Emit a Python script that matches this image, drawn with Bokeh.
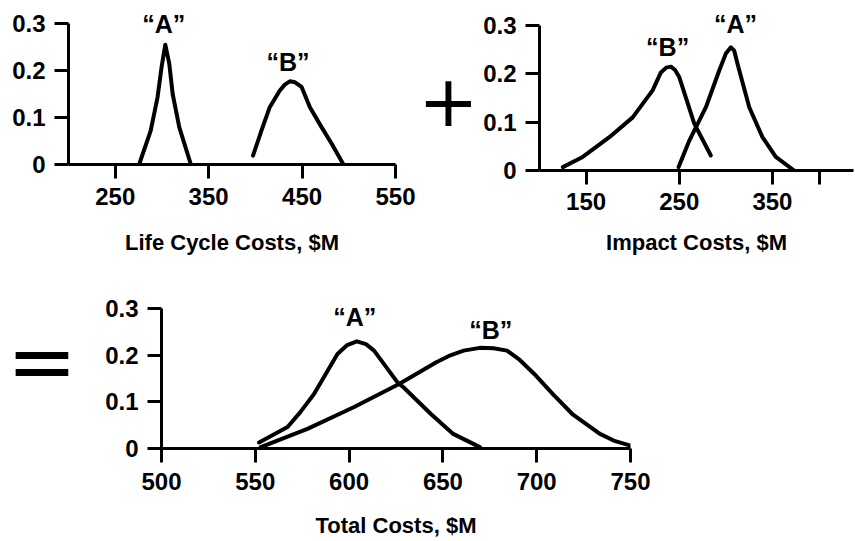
from bokeh.plotting import figure
from bokeh.layouts import column, row
from bokeh.models import FixedTicker, Range1d
from bokeh.core.properties import value
from bokeh.embed import file_html
from bokeh.resources import INLINE

# ---------------- data ----------------
y_ticks = [0, 0.1, 0.2, 0.3]
y_tick_labels = ["0", "0.1", "0.2", "0.3"]

# Life cycle costs, $M
lc_ticks = [250, 350, 450, 550]
lc_tick_labels = ["250", "350", "450", "550"]
lc_a_x = [275.6, 288.0, 295.3, 299.6, 303.6, 307.9, 311.5, 318.6, 331.0]
lc_a_y = [0.0, 0.072, 0.143, 0.207, 0.255, 0.214, 0.150, 0.079, 0.0]
lc_b_x = [397.5, 406.5, 415.4, 426.0, 431.5, 436.9, 442.5, 449.5, 458.4, 471.0, 481.7, 494.3]
lc_b_y = [0.019, 0.072, 0.122, 0.157, 0.170, 0.177, 0.175, 0.165, 0.122, 0.079, 0.044, 0.0]

# Impact costs, $M
im_ticks = [150, 250, 350, 400]
im_tick_labels = ["150", "250", "350", ""]
im_b_x = [125.0, 146.4, 175.0, 200.0, 221.4, 230.3, 236.0, 241.0, 245.5, 250.1, 266.1, 283.9]
im_b_y = [0.007, 0.028, 0.069, 0.110, 0.166, 0.203, 0.213, 0.215, 0.208, 0.193, 0.097, 0.031]
im_a_x = [249.3, 260.8, 278.6, 292.9, 300.0, 305.4, 309.0, 312.5, 325.1, 339.3, 353.6, 373.3]
im_a_y = [0.007, 0.062, 0.131, 0.207, 0.242, 0.255, 0.248, 0.221, 0.131, 0.069, 0.028, 0.0]

# Total costs, $M
tot_ticks = [500, 550, 600, 650, 700, 750]
tot_tick_labels = ["500", "550", "600", "650", "700", "750"]
tot_a_x = [552.0, 567.2, 574.0, 581.3, 593.8, 599.0, 604.1, 609.0, 613.3, 625.8,
           629.1, 643.6, 655.2, 669.7]
tot_a_y = [0.013, 0.046, 0.078, 0.117, 0.203, 0.222, 0.230, 0.224, 0.210, 0.142,
           0.131, 0.074, 0.032, 0.003]
tot_b_x = [552.9, 577.8, 602.7, 626.9, 646.5, 654.0, 661.0, 669.7, 677.0, 684.2,
           691.0, 698.7, 709.0, 719.0, 733.5, 741.0, 750.0]
tot_b_y = [0.003, 0.042, 0.089, 0.139, 0.185, 0.200, 0.210, 0.216, 0.215, 0.210,
           0.190, 0.160, 0.115, 0.074, 0.032, 0.017, 0.006]

# curve labels: (text, x, y)
lc_labels = [("\u201cA\u201d", 302, 0.300), ("\u201cB\u201d", 435, 0.219)]
im_labels = [("\u201cB\u201d", 237.5, 0.256), ("\u201cA\u201d", 310.4, 0.304)]
tot_labels = [("\u201cA\u201d", 603, 0.283), ("\u201cB\u201d", 675.5, 0.254)]

FONT = "Liberation Sans"


def make_fig(xr, yend, fw, fh, bl, br, bt, bb, xticks, xlabels, title,
             x_label_standoff, title_standoff):
    p = figure(x_range=Range1d(*xr), y_range=Range1d(0, yend),
               frame_width=fw, frame_height=fh,
               min_border_left=bl, min_border_right=br,
               min_border_top=bt, min_border_bottom=bb,
               output_backend="svg", toolbar_location=None,
               background_fill_color="white", border_fill_color="white",
               outline_line_color=None)
    p.grid.visible = False
    for ax in (p.xaxis[0], p.yaxis[0]):
        ax.axis_line_width = 3
        ax.axis_line_color = "black"
        ax.major_tick_line_width = 3
        ax.major_tick_line_color = "black"
        ax.major_tick_out = 14
        ax.major_tick_in = 0
        ax.minor_tick_out = 0
        ax.minor_tick_in = 0
        ax.major_label_text_font = FONT
        ax.major_label_text_font_style = "bold"
        ax.major_label_text_font_size = "24px"
        ax.major_label_text_color = "black"
        ax.axis_label_text_font = FONT
        ax.axis_label_text_font_style = "bold"
        ax.axis_label_text_font_size = "22px"
        ax.axis_label_text_color = "black"
    xa = p.xaxis[0]
    xa.ticker = FixedTicker(ticks=xticks)
    xa.major_label_overrides = {t: l for t, l in zip(xticks, xlabels)}
    xa.major_label_standoff = x_label_standoff
    xa.axis_label = title
    xa.axis_label_standoff = title_standoff
    ya = p.yaxis[0]
    ya.ticker = FixedTicker(ticks=y_ticks)
    ya.major_label_overrides = {t: l for t, l in zip(y_ticks, y_tick_labels)}
    ya.major_label_standoff = 9
    ya.bounds = (0, 0.3)
    return p


def draw(p, curves, labels):
    for xs, ys in curves:
        p.line(xs, ys, line_color="black", line_width=4,
               line_join="round", line_cap="round")
    for t, x, y in labels:
        p.text(x=[x], y=[y], text=[t], text_font=value(FONT),
               text_font_style="bold", text_font_size="25px",
               text_align="center", text_baseline="alphabetic",
               text_color="black")


def symbol_fig(symbol, fw, fh, bt, bb, sx, sy, size):
    f = figure(x_range=Range1d(0, 1), y_range=Range1d(0, 1),
               frame_width=fw, frame_height=fh,
               min_border_left=0, min_border_right=0,
               min_border_top=bt, min_border_bottom=bb,
               x_axis_type=None, y_axis_type=None,
               output_backend="svg", toolbar_location=None,
               background_fill_color="white", border_fill_color="white",
               outline_line_color=None)
    f.text(x=[sx], y=[sy], text=[symbol], text_font=value("DejaVu Sans"),
           text_font_size=size, text_align="center", text_baseline="middle",
           text_color="black")
    return f


# Life cycle
p1 = make_fig((200, 550), 0.3447, 327, 162, 68, 21, 2, 96,
              lc_ticks, lc_tick_labels, "Life Cycle Costs, $M", 9, 22)
p1.xaxis[0].bounds = (200, 550)
draw(p1, [(lc_a_x, lc_a_y), (lc_b_x, lc_b_y)], lc_labels)

# "+" between the two top panels (same vertical frame as the life-cycle panel)
plus = symbol_fig("+", 64, 162, 2, 96, 0.5, 0.40, "72px")

# Impact
p2 = make_fig((100, 437), 0.3478, 314, 168, 57, 2, 2, 90,
              im_ticks, im_tick_labels, "Impact Costs, $M", 8, 17)
draw(p2, [(im_b_x, im_b_y), (im_a_x, im_a_y)], im_labels)

# "=" left of the total panel (same vertical frame as the total panel)
equals = symbol_fig("=", 100, 156, 32, 92, 0.415, 0.558, "84px")

# Total
p3 = make_fig((500, 750), 0.3348, 469, 156, 61, 30, 32, 92,
              tot_ticks, tot_tick_labels, "Total Costs, $M", 10, 20)
draw(p3, [(tot_a_x, tot_a_y), (tot_b_x, tot_b_y)], tot_labels)

layout = column(row(p1, plus, p2), row(equals, p3))

open("out.html", "w").write(file_html(layout, INLINE))
